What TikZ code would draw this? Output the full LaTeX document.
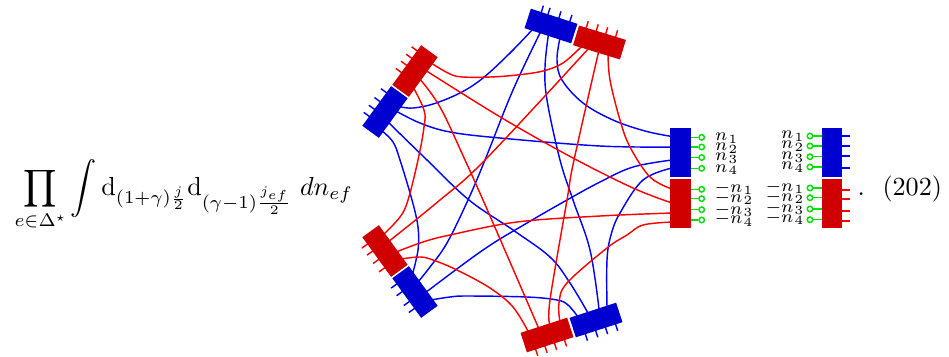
\documentclass[tikz,border=0pt]{standalone}
\usepackage{amsmath,amssymb}
\usetikzlibrary{backgrounds}
\definecolor{bfill}{RGB}{0,0,208}
\definecolor{rfill}{RGB}{208,0,0}
\definecolor{gline}{RGB}{0,225,0}
\def\px{0.3828pt}
\tikzset{
  x=0.3828pt,y=-0.3828pt,
  blockbox/.style={draw=none,inner sep=0pt,outer sep=0pt,minimum width=49*\px,minimum height=20.5*\px},
  uprightbox/.style={draw=none,inner sep=0pt,outer sep=0pt,minimum width=20.5*\px,minimum height=49*\px},
  bl/.style={draw={rgb,255:red,0;green,0;blue,255},line width=0.55pt},
  rl/.style={draw={rgb,255:red,255;green,0;blue,0},line width=0.55pt},
  gl/.style={draw=gline,line width=0.6pt},
  gc/.style={circle,draw=gline,fill=white,line width=0.55pt,inner sep=0pt,minimum size=5.5*\px},
  lab/.style={inner sep=0pt,scale=0.96,font=\fontsize{7}{8}\selectfont},
  eqn/.style={inner sep=0pt,anchor=base west},
}
\newcommand{\blk}[7]{%
  \begin{scope}[shift={(#2,#3)},rotate=#4]
    \foreach \u in {#7} \draw[#6] (\u,-8) -- (\u,-17);
    \node[blockbox,fill=#5,transform shape] (#1) at (0,0) {};
  \end{scope}}
\newcommand{\cv}[2]{\draw[#1] plot[smooth,tension=0.6] coordinates {#2};}
\newcommand{\nn}[1]{n\mkern1mu_{#1}}
\begin{document}
\begin{tikzpicture}
\useasboundingbox (0,0) rectangle (949,356);
% equation
\node[eqn] (eq) at (14,195.5) {$\displaystyle\prod_{e\in\Delta^\star}\int \mathrm{d}_{(1+\gamma)\frac{j}{2}}\mathrm{d}_{(\gamma-1)\frac{j_{ef}}{2}}\;dn_{ef}$};
\node[eqn] (dot) at (857,195.5) {.};
\node[eqn] (num) at (882,195.5) {(202)};
% blocks
\blk{D}{551}{26}{-18}{bfill}{bl}{-13.5,-6.5,5,16.5}
\blk{C}{599.5}{42.5}{-17}{rfill}{rl}{-17,-6.5,3.4,13.75}
\blk{E}{415}{71}{54}{rfill}{rl}{17.6,8.4,-0.3,-9.2}
\blk{F}{385}{112}{54}{bfill}{bl}{16.5,5.5,-4,-12.8}
\blk{G}{385}{251}{126}{rfill}{rl}{15.9,7.2,-3.1,-13.4}
\blk{H}{415}{292}{126}{bfill}{bl}{17.2,7.8,-4.4,-13}
\blk{I}{547}{335}{198}{rfill}{rl}{15.2,5.4,-4.6,-15.1}
\blk{J}{596}{320}{198}{bfill}{bl}{14.5,3.6,-6.7,-17.3}
\node[uprightbox,fill=bfill] (A) at (680.5,152.5) {};
\node[uprightbox,fill=rfill] (B) at (680.5,203.5) {};
\node[uprightbox,fill=bfill] (A2) at (832,152.5) {};
\node[uprightbox,fill=rfill] (B2) at (832,203.5) {};
% right pair: green legs, circles, labels
\foreach \i/\y/\ly in {1/137.3/138,2/147/148,3/157.5/158,4/168.3/169.5}{
  \node[gc] (a\i) at (701.7,\y) {};
  \begin{pgfonlayer}{background}\draw[gl] (a\i) -- (a\i -| A.east);\end{pgfonlayer}
  \node[lab,anchor=west] (la\i) at (714.5,\ly) {$\nn{\i}$};
}
\foreach \i/\y/\ly in {1/189.3/188,2/198.7/198,3/209.7/210,4/220/219.5}{
  \node[gc] (b\i) at (701.7,\y) {};
  \begin{pgfonlayer}{background}\draw[gl] (b\i) -- (b\i -| B.east);\end{pgfonlayer}
  \node[lab,anchor=west] (lb\i) at (714,\ly) {$-\nn{\i}$};
}
\foreach \i/\y/\ly/\yy in {1/136/136/136,2/146/146/146,3/156.7/157/156,4/167/167/168}{
  \node[gc] (c\i) at (810,\y) {};
  \begin{pgfonlayer}{background}\draw[gl] (c\i) -- (c\i -| A2.west);\end{pgfonlayer}
  \node[lab,anchor=east] (lc\i) at (805,\ly) {$\nn{\i}$};
  \coordinate (ct\i) at (850,\yy);
  \begin{pgfonlayer}{background}\draw[bl] (ct\i) -- (ct\i -| A2.east);\end{pgfonlayer}
}
\foreach \i/\y/\ly/\yy in {1/188/187/189.8,2/197.7/197/199.2,3/209/208/211,4/219.7/218/221}{
  \node[gc] (d\i) at (810,\y) {};
  \begin{pgfonlayer}{background}\draw[gl] (d\i) -- (d\i -| B2.west);\end{pgfonlayer}
  \node[lab,anchor=east] (ld\i) at (805,\ly) {$-\nn{\i}$};
  \coordinate (dt\i) at (850,\yy);
  \begin{pgfonlayer}{background}\draw[rl] (dt\i) -- (dt\i -| B2.east);\end{pgfonlayer}
}
% inner ends
\coordinate (A1) at (672,136.5); \coordinate (A2e) at (672,147); \coordinate (A3) at (672,160); \coordinate (A4) at (672,168);
\coordinate (B1) at (672,189); \coordinate (B2e) at (672,203); \coordinate (B3) at (672,213); \coordinate (B4) at (672,222);
\coordinate (D1) at (532,30); \coordinate (D2) at (541,31); \coordinate (D3) at (548.5,34); \coordinate (D4) at (560,38);
\coordinate (C1) at (582,46); \coordinate (C2) at (589,48); \coordinate (C3) at (599,50); \coordinate (C4) at (608,53);
\coordinate (E1) at (431,63); \coordinate (E2) at (425,70); \coordinate (E3) at (419,78); \coordinate (E4) at (412,85);
\coordinate (F1) at (401,107); \coordinate (F2) at (396,111); \coordinate (F3) at (388,122); \coordinate (F4) at (381,130);
\coordinate (G1) at (383,235); \coordinate (G2) at (388,242); \coordinate (G3) at (396,252); \coordinate (G4) at (401,259);
\coordinate (H1) at (412,276); \coordinate (H2) at (418,282); \coordinate (H3) at (425,293); \coordinate (H4) at (431,300);
\coordinate (I1) at (529,333); \coordinate (I2) at (539,329); \coordinate (I3) at (550,325); \coordinate (I4) at (560,322);
\coordinate (J1) at (578,317); \coordinate (J2) at (588,313); \coordinate (J3) at (599,309); \coordinate (J4) at (607,307);
\begin{pgfonlayer}{background}
% blue
\cv{bl}{(D4) (557,60) (562,80) (583,103) (613,120) (645,131) (A1)}
\cv{bl}{(F2) (420,123) (450,132) (500,138) (600,146) (A2e)}
\cv{bl}{(H3) (483,250) (527,223) (567,200) (600,182) (633,167) (A3)}
\cv{bl}{(J4) (607,260) (611,235) (620,213) (643,180) (A4)}
\cv{bl}{(D1) (510,53) (483,78) (460,93) (433,104) (413,108) (F1)}
\cv{bl}{(D2) (513,90) (485,160) (468,200) (447,243) (430,267) (H2)}
\cv{bl}{(D3) (545,67) (547,100) (560,160) (573,200) (590,250) (J3)}
\cv{bl}{(F4) (393,142) (400,160) (412,200) (418,227) (418,250) (H1)}
\cv{bl}{(F3) (427,160) (469,200) (513,230) (550,257) (570,283) (J2)}
\cv{bl}{(H4) (450,297) (467,296) (527,297) (557,300) (568,305) (J1)}
% red
\cv{rl}{(C4) (610,80) (620,120) (630,147) (650,177) (B1)}
\cv{rl}{(E2) (502,118) (573,158) (633,188) (B2e)}
\cv{rl}{(G3) (423,242) (450,235) (517,222) (600,216) (B3)}
\cv{rl}{(I4) (559,303) (567,283) (607,248) (627,235) (643,225) (B4)}
\cv{rl}{(E1) (450,74) (463,77) (490,77) (517,75) (543,71) (563,63) (C1)}
\cv{rl}{(C2) (485,160) (440,200) (G2)}
\cv{rl}{(C3) (574,160) (567,200) (550,300) (I3)}
\cv{rl}{(E4) (424,110) (424,127) (418,160) (408,200) (400,217) (G1)}
\cv{rl}{(E3) (440,107) (465,160) (483,200) (510,262) (I2)}
\cv{rl}{(G4) (420,257) (433,260) (457,270) (490,288) (513,307) (I1)}
\end{pgfonlayer}
\end{tikzpicture}
\end{document}
